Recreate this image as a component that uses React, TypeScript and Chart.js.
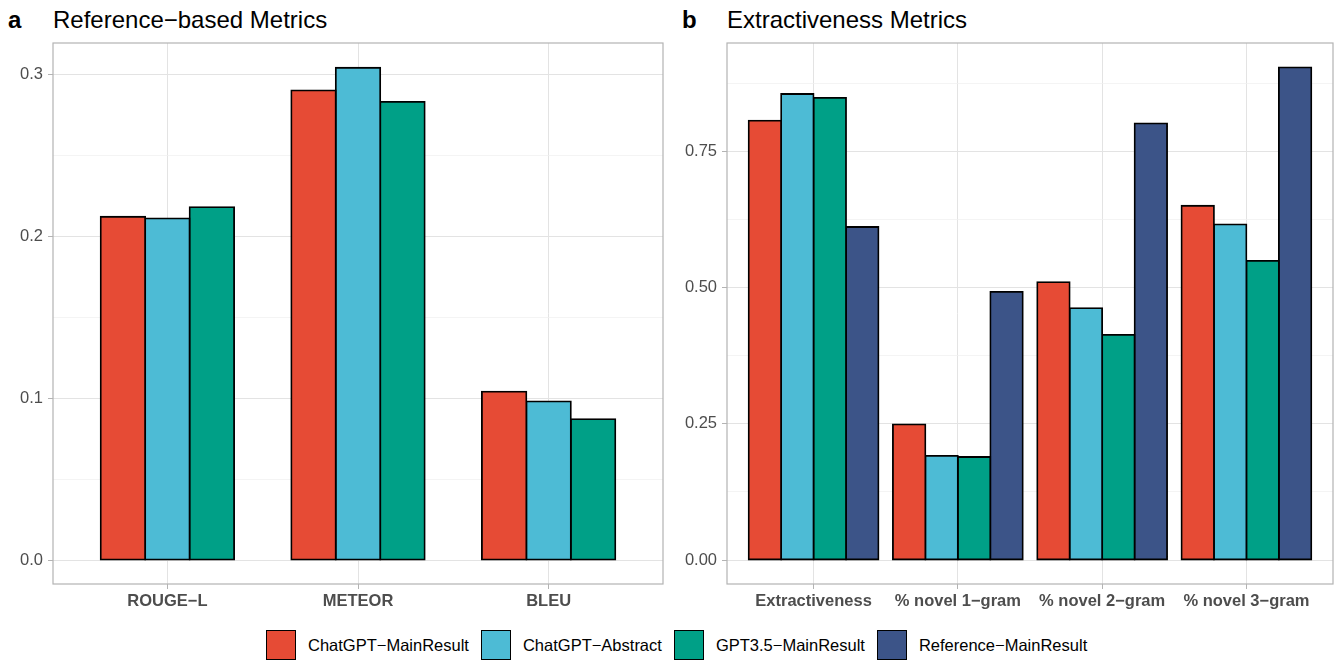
import React, { useEffect, useRef } from "react";
import { Chart, registerables } from "chart.js";

Chart.register(...registerables);

const seriesNames = ["ChatGPT−MainResult", "ChatGPT−Abstract", "GPT3.5−MainResult", "Reference−MainResult"];
const seriesColors = ["#E64B35", "#4DBBD5", "#00A087", "#3C5488"];

const categoriesA = ["ROUGE−L", "METEOR", "BLEU"];
const chatgptMainA = [0.212, 0.29, 0.104];
const chatgptAbstractA = [0.211, 0.304, 0.098];
const gpt35MainA = [0.218, 0.283, 0.087];
const seriesA = [chatgptMainA, chatgptAbstractA, gpt35MainA];

const categoriesB = ["Extractiveness", "% novel 1−gram", "% novel 2−gram", "% novel 3−gram"];
const chatgptMainB = [0.806, 0.249, 0.51, 0.65];
const chatgptAbstractB = [0.855, 0.191, 0.462, 0.616];
const gpt35MainB = [0.848, 0.189, 0.413, 0.549];
const referenceMainB = [0.611, 0.492, 0.801, 0.904];
const seriesB = [chatgptMainB, chatgptAbstractB, gpt35MainB, referenceMainB];

const FONT = "'Liberation Sans', Arial, Helvetica, sans-serif";

const borderPlugin = {
  id: "panelBorder",
  afterDraw(chart: any) {
    const { ctx, chartArea } = chart;
    ctx.save();
    ctx.strokeStyle = "#b3b3b3";
    ctx.lineWidth = 1.2;
    ctx.strokeRect(chartArea.left, chartArea.top, chartArea.right - chartArea.left, chartArea.bottom - chartArea.top);
    ctx.restore();
  },
};

function makeConfig(
  categories: string[],
  series: number[][],
  yMin: number,
  yMax: number,
  step: number,
  majorStep: number,
  decimals: number,
  yWidth: number,
  rightPad: number,
  groupWidth: number
): any {
  const isMajor = (v: number) => Math.abs(v / majorStep - Math.round(v / majorStep)) < 1e-6;
  return {
    type: "bar",
    data: {
      datasets: series.map((vals, si) => ({
        label: seriesNames[si],
        data: vals.map((v, i) => ({ x: i + 1, y: v })),
        backgroundColor: seriesColors[si],
        borderColor: "#000000",
        borderWidth: 1.8,
        inflateAmount: 0.9,
        borderSkipped: false,
        categoryPercentage: groupWidth,
        barPercentage: 1,
      })),
    },
    options: {
      responsive: false,
      animation: false,
      layout: { padding: { left: 0, right: rightPad, top: 43, bottom: 5 } },
      plugins: { legend: { display: false }, tooltip: { enabled: false }, title: { display: false } },
      scales: {
        x: {
          type: "linear",
          min: 0.4,
          max: categories.length + 0.6,
          offset: false,
          afterFit: (s: any) => {
            s.height = 36;
          },
          border: { display: false },
          grid: {
            offset: false,
            color: "#e3e3e3",
            lineWidth: 1,
            drawTicks: true,
            tickLength: 5,
            tickColor: "#b3b3b3",
          },
          ticks: {
            stepSize: 1,
            includeBounds: false,
            autoSkip: false,
            maxRotation: 0,
            padding: 3,
            color: "#4d4d4d",
            font: { family: FONT, size: 16.5, weight: "bold" },
            callback: (v: number) => categories[Math.round(v) - 1] ?? "",
          },
        },
        y: {
          type: "linear",
          min: yMin,
          max: yMax,
          afterFit: (s: any) => {
            s.width = yWidth;
          },
          border: { display: false },
          grid: {
            color: (c: any) => (c.tick && isMajor(c.tick.value) ? "#e3e3e3" : "#efefef"),
            lineWidth: (c: any) => (c.tick && isMajor(c.tick.value) ? 1 : 0.7),
            drawTicks: true,
            tickLength: 5,
            tickColor: (c: any) => (c.tick && isMajor(c.tick.value) ? "#b3b3b3" : "rgba(0,0,0,0)"),
          },
          ticks: {
            stepSize: step,
            includeBounds: false,
            autoSkip: false,
            padding: 5,
            color: "#4d4d4d",
            font: { family: FONT, size: 16.5 },
            callback: (v: number) => (isMajor(v) ? v.toFixed(decimals) : ""),
          },
        },
      },
    },
    plugins: [borderPlugin],
  };
}

function ChartCanvas(props: { config: () => any; width: number; height: number; left: number }) {
  const ref = useRef<HTMLCanvasElement | null>(null);
  useEffect(() => {
    if (!ref.current) return;
    const chart = new Chart(ref.current, props.config());
    return () => chart.destroy();
  }, []);
  return (
    <canvas
      ref={ref}
      width={props.width}
      height={props.height}
      style={{ position: "absolute", left: props.left, top: 0, width: props.width, height: props.height }}
    />
  );
}

const titleStyle: React.CSSProperties = {
  position: "absolute",
  top: 8,
  fontFamily: FONT,
  fontSize: 24,
  lineHeight: "24px",
  color: "#000",
  whiteSpace: "nowrap",
};

export default function App() {
  useEffect(() => {
    document.body.style.margin = "0";
  }, []);
  return (
    <div style={{ position: "relative", width: 1337, height: 663, background: "#fff", overflow: "hidden" }}>
      <div style={{ ...titleStyle, left: 8, fontWeight: "bold" }}>a</div>
      <div style={{ ...titleStyle, left: 53 }}>Reference−based Metrics</div>
      <div style={{ ...titleStyle, left: 682, fontWeight: "bold" }}>b</div>
      <div style={{ ...titleStyle, left: 727 }}>Extractiveness Metrics</div>
      <ChartCanvas
        left={0}
        width={668}
        height={625}
        config={() => makeConfig(categoriesA, seriesA, -0.0148, 0.3193, 0.05, 0.1, 1, 53, 5, 0.7)}
      />
      <ChartCanvas
        left={668}
        width={669}
        height={625}
        config={() => makeConfig(categoriesB, seriesB, -0.044, 0.9486, 0.125, 0.25, 2, 59, 4, 0.9)}
      />
      <div
        style={{
          position: "absolute",
          left: 266,
          top: 630,
          display: "flex",
          alignItems: "center",
          fontFamily: FONT,
          fontSize: 16.5,
          color: "#000",
          whiteSpace: "nowrap",
        }}
      >
        {seriesNames.map((name, i) => (
          <div key={name} style={{ display: "flex", alignItems: "center", marginRight: 12 }}>
            <div
              style={{
                width: 30,
                height: 30,
                boxSizing: "border-box",
                border: "1.8px solid #000",
                background: seriesColors[i],
                marginRight: 12,
              }}
            />
            <span>{name}</span>
          </div>
        ))}
      </div>
    </div>
  );
}
